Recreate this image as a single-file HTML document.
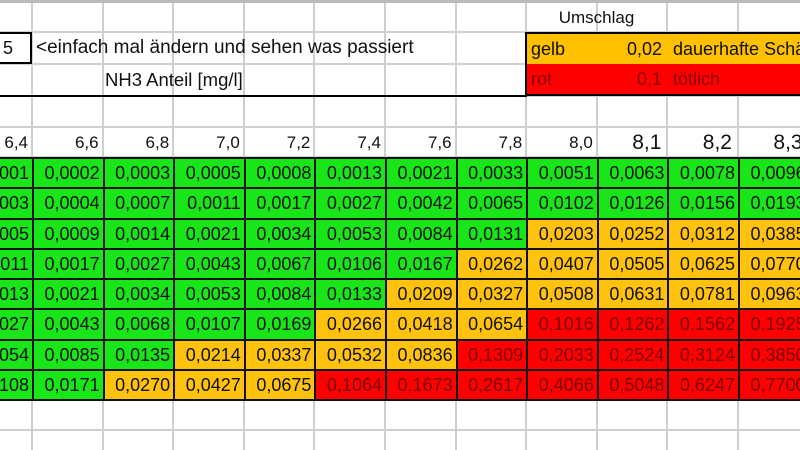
<!DOCTYPE html>
<html><head><meta charset="utf-8"><style>
body{margin:0;width:800px;height:450px;overflow:hidden;background:#fff;position:relative;font-family:"Liberation Sans",Arial,sans-serif;}
.c{position:absolute;box-sizing:border-box;font-size:16px;line-height:30px;white-space:nowrap;overflow:hidden;padding:0 3px;color:#111}
.v{position:absolute;top:0;width:2px;height:450px;background:#cfcfcf}
.h{position:absolute;left:0;height:2px;width:800px;background:#cfcfcf}
.s{position:absolute;top:0}
</style></head><body>
<div id="g"></div>
<script>
const W=70.6,X0=-38.6;
let html='';
for(let i=0;i<13;i++)html+=`<div class="v" style="left:${X0+i*W-1}px"></div>`;
[1,32,64,96,127,157,399,430].forEach(y=>html+=`<div class="h" style="top:${y-1}px"></div>`);
html+=`<div class="h" style="top:0;height:3px;background:#bbb"></div>`;
html+=`<div class="c" style="left:0;top:32px;width:32px;height:32px;border:2px solid #000;border-left:none;line-height:28px;font-size:18px">5</div>`;
html+=`<div class="c" style="left:33px;top:32px;width:500px;height:32px;font-size:19px;line-height:32px">&lt;einfach mal ändern und sehen was passiert</div>`;
html+=`<div class="c" style="left:102px;top:64px;width:300px;height:32px;line-height:32px;font-size:18.5px">NH3 Anteil [mg/l]</div>`;
html+=`<div style="position:absolute;left:0;top:95px;width:527px;height:2px;background:#000"></div>`;
html+=`<div class="c" style="left:526px;top:2px;width:141px;height:30px;text-align:center;line-height:32px;font-size:17px">Umschlag</div>`;
html+=`<div class="c" style="left:525px;top:32px;width:280px;height:32px;background:#ffc000;border-top:2px solid #000;border-left:2px solid #000;line-height:30px;font-size:18px"><span class="s" style="left:4px">gelb</span><span class="s" style="left:75px;width:60px;text-align:right">0,02</span><span class="s" style="left:146px">dauerhafte Schäden</span></div>`;
html+=`<div class="c" style="left:525px;top:64px;width:280px;height:32px;background:#f00;border-bottom:2px solid #000;border-left:2px solid #000;color:#800;line-height:30px;font-size:18px"><span class="s" style="left:4px">rot</span><span class="s" style="left:75px;width:60px;text-align:right">0,1</span><span class="s" style="left:146px">tötlich</span></div>`;
const hd=['6,4','6,6','6,8','7,0','7,2','7,4','7,6','7,8','8,0','8,1','8,2','8,3'];
hd.forEach((t,i)=>html+=`<div class="c" style="left:${X0+i*W}px;top:127px;width:${W}px;height:30px;text-align:right;font-size:${i>=9?21:17}px;padding-right:${i>=9?6:4}px;line-height:32px">${t}</div>`);
const d=[
['0,0001','0,0002','0,0003','0,0005','0,0008','0,0013','0,0021','0,0033','0,0051','0,0063','0,0078','0,0096'],
['0,0003','0,0004','0,0007','0,0011','0,0017','0,0027','0,0042','0,0065','0,0102','0,0126','0,0156','0,0193'],
['0,0005','0,0009','0,0014','0,0021','0,0034','0,0053','0,0084','0,0131','0,0203','0,0252','0,0312','0,0385'],
['0,0011','0,0017','0,0027','0,0043','0,0067','0,0106','0,0167','0,0262','0,0407','0,0505','0,0625','0,0770'],
['0,0013','0,0021','0,0034','0,0053','0,0084','0,0133','0,0209','0,0327','0,0508','0,0631','0,0781','0,0963'],
['0,0027','0,0043','0,0068','0,0107','0,0169','0,0266','0,0418','0,0654','0,1016','0,1262','0,1562','0,1925'],
['0,0054','0,0085','0,0135','0,0214','0,0337','0,0532','0,0836','0,1309','0,2033','0,2524','0,3124','0,3850'],
['0,0108','0,0171','0,0270','0,0427','0,0675','0,1064','0,1673','0,2617','0,4066','0,5048','0,6247','0,7700']];
const RH=30.25;
d.forEach((r,j)=>r.forEach((t,i)=>{const v=parseFloat(t.replace(',','.'));
const bg=v<0.02?'#19e619':v<0.1?'#ffc20e':'#f00';const col=v<0.1?'#111':'#7a0000';
html+=`<div class="c" style="left:${X0+i*W}px;top:${157+j*RH}px;width:${W+2}px;height:${RH+2}px;background:${bg};color:${col};border:2px solid #111;text-align:right;font-size:18px;line-height:${RH-2}px;padding-right:3px">${t}</div>`;}));
document.getElementById('g').innerHTML=html;
</script>
</body></html>
